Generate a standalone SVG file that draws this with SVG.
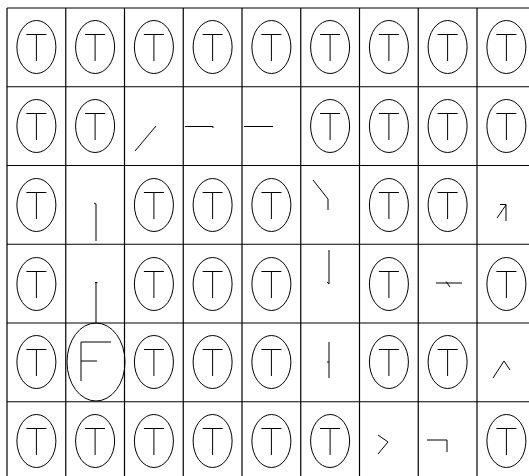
<svg xmlns="http://www.w3.org/2000/svg" xmlns:xlink="http://www.w3.org/1999/xlink" width="529" height="476" viewBox="0 0 529 476">
<style>
  .ln{fill:none;stroke:#000;stroke-width:1}
  .grid line{stroke:#000;stroke-width:1.2}
</style>
<defs>
  <g id="tcell" class="ln">
    <ellipse cx="0" cy="0" rx="19.5" ry="26.5"/>
    <path d="M-10,-12.5 H10 M0,-12.5 V14"/>
  </g>
</defs>
<rect width="529" height="476" fill="#fff"/>
<g id="grid" class="grid">
  <line x1="7" y1="8" x2="7" y2="476"/>
  <line x1="65.75" y1="8" x2="65.75" y2="476"/>
  <line x1="124.5" y1="8" x2="124.5" y2="476"/>
  <line x1="183.25" y1="8" x2="183.25" y2="476"/>
  <line x1="242" y1="8" x2="242" y2="476"/>
  <line x1="300.75" y1="8" x2="300.75" y2="476"/>
  <line x1="359.5" y1="8" x2="359.5" y2="476"/>
  <line x1="418.25" y1="8" x2="418.25" y2="476"/>
  <line x1="477" y1="8" x2="477" y2="476"/>
  <line x1="7" y1="8" x2="529" y2="8"/>
  <line x1="7" y1="86.75" x2="529" y2="86.75"/>
  <line x1="7" y1="165.5" x2="529" y2="165.5"/>
  <line x1="7" y1="244.25" x2="529" y2="244.25"/>
  <line x1="7" y1="323" x2="529" y2="323"/>
  <line x1="7" y1="401.75" x2="529" y2="401.75"/>
</g>
<!-- row 0 -->
<g id="r0c0"><use xlink:href="#tcell" x="36.4" y="47"/></g>
<g id="r0c1"><use xlink:href="#tcell" x="95.1" y="47"/></g>
<g id="r0c2"><use xlink:href="#tcell" x="153.9" y="47"/></g>
<g id="r0c3"><use xlink:href="#tcell" x="212.6" y="47"/></g>
<g id="r0c4"><use xlink:href="#tcell" x="271.4" y="47"/></g>
<g id="r0c5"><use xlink:href="#tcell" x="330.1" y="47"/></g>
<g id="r0c6"><use xlink:href="#tcell" x="388.9" y="47"/></g>
<g id="r0c7"><use xlink:href="#tcell" x="447.6" y="47"/></g>
<g id="r0c8"><use xlink:href="#tcell" x="506.4" y="47"/></g>
<!-- row 1 -->
<g id="r1c0"><use xlink:href="#tcell" x="36.4" y="126"/></g>
<g id="r1c1"><use xlink:href="#tcell" x="95.1" y="126"/></g>
<g id="r1c2" class="ln"><path d="M135,151 L156,126"/></g>
<g id="r1c3" class="ln"><path d="M185,126.5 H213 V128"/></g>
<g id="r1c4" class="ln"><path d="M244,126.5 H273"/></g>
<g id="r1c5"><use xlink:href="#tcell" x="330.1" y="126"/></g>
<g id="r1c6"><use xlink:href="#tcell" x="388.9" y="126"/></g>
<g id="r1c7"><use xlink:href="#tcell" x="447.6" y="126"/></g>
<g id="r1c8"><use xlink:href="#tcell" x="506.4" y="126"/></g>
<!-- row 2 -->
<g id="r2c0"><use xlink:href="#tcell" x="36.4" y="205"/></g>
<g id="r2c1" class="ln"><path d="M94,203 L96,204 V241"/></g>
<g id="r2c2"><use xlink:href="#tcell" x="153.9" y="205"/></g>
<g id="r2c3"><use xlink:href="#tcell" x="212.6" y="205"/></g>
<g id="r2c4"><use xlink:href="#tcell" x="271.4" y="205"/></g>
<g id="r2c5" class="ln"><path d="M313,180 L328,199 V210"/></g>
<g id="r2c6"><use xlink:href="#tcell" x="388.9" y="205"/></g>
<g id="r2c7"><use xlink:href="#tcell" x="447.6" y="205"/></g>
<g id="r2c8" class="ln"><path d="M497,218 L506,205 M500,204.5 H506 V221"/></g>
<!-- row 3 -->
<g id="r3c0"><use xlink:href="#tcell" x="36.4" y="284"/></g>
<g id="r3c1" class="ln"><path d="M95,282.5 H97.5 M96,282.5 V323"/></g>
<g id="r3c2"><use xlink:href="#tcell" x="153.9" y="284"/></g>
<g id="r3c3"><use xlink:href="#tcell" x="212.6" y="284"/></g>
<g id="r3c4"><use xlink:href="#tcell" x="271.4" y="284"/></g>
<g id="r3c5" class="ln"><path d="M329,250 V284 L327,282"/></g>
<g id="r3c6"><use xlink:href="#tcell" x="388.9" y="284"/></g>
<g id="r3c7" class="ln"><path d="M436,283 H462 M446,281.5 L450,287"/></g>
<g id="r3c8"><use xlink:href="#tcell" x="506.4" y="284"/></g>
<!-- row 4 -->
<g id="r4c0"><use xlink:href="#tcell" x="36.4" y="362"/></g>
<g id="r4c1" class="ln"><ellipse cx="96" cy="362" rx="29" ry="39"/><path d="M111,342 H81 V381 M81,361 H97"/></g>
<g id="r4c2"><use xlink:href="#tcell" x="153.9" y="362"/></g>
<g id="r4c3"><use xlink:href="#tcell" x="212.6" y="362"/></g>
<g id="r4c4"><use xlink:href="#tcell" x="271.4" y="362"/></g>
<g id="r4c5" class="ln"><path d="M329,342 V378 M327,362 H329"/></g>
<g id="r4c6"><use xlink:href="#tcell" x="388.9" y="362"/></g>
<g id="r4c7"><use xlink:href="#tcell" x="447.6" y="362"/></g>
<g id="r4c8" class="ln"><path d="M493,378 L504,361 L510,370"/></g>
<!-- row 5 -->
<g id="r5c0"><use xlink:href="#tcell" x="36.4" y="441"/></g>
<g id="r5c1"><use xlink:href="#tcell" x="95.1" y="441"/></g>
<g id="r5c2"><use xlink:href="#tcell" x="153.9" y="441"/></g>
<g id="r5c3"><use xlink:href="#tcell" x="212.6" y="441"/></g>
<g id="r5c4"><use xlink:href="#tcell" x="271.4" y="441"/></g>
<g id="r5c5"><use xlink:href="#tcell" x="330.1" y="441"/></g>
<g id="r5c6" class="ln"><path d="M378,435 L388,442 L378,454"/></g>
<g id="r5c7" class="ln"><path d="M427,440 H447 V452"/></g>
<g id="r5c8"><use xlink:href="#tcell" x="506.4" y="441"/></g>
</svg>
